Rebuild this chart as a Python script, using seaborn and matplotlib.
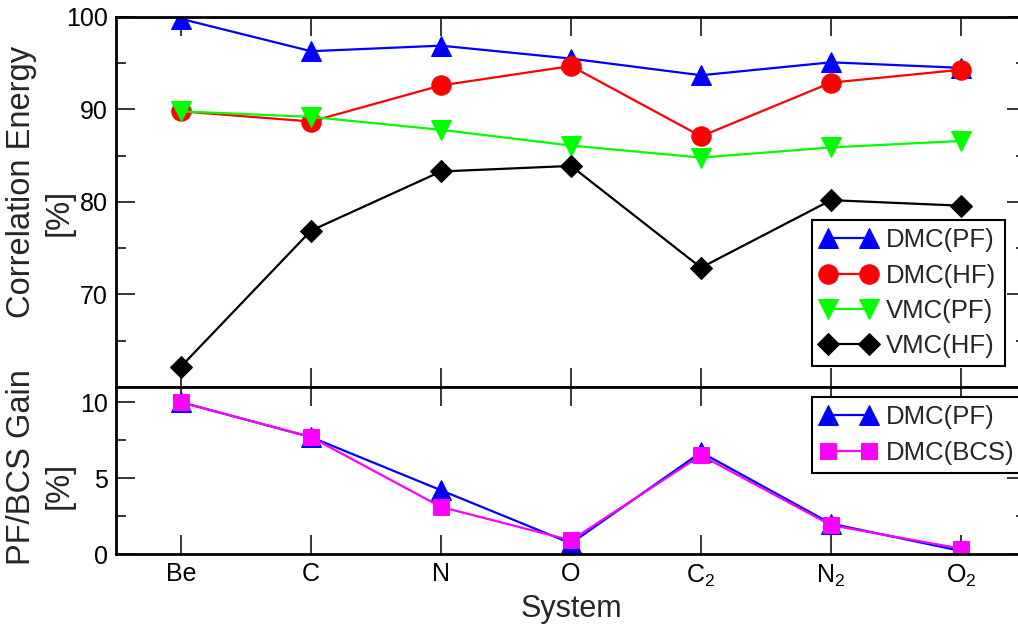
import matplotlib
matplotlib.use("Agg")
import matplotlib.pyplot as plt
import numpy as np
import seaborn as sns

systems = ["Be", "C", "N", "O", "C$_\\mathregular{2}$", "N$_\\mathregular{2}$", "O$_\\mathregular{2}$"]

# correlation energy recovered [%]
dmc_pf = [99.8, 96.3, 96.9, 95.5, 93.7, 95.1, 94.5]
dmc_hf = [89.8, 88.7, 92.6, 94.7, 87.1, 92.9, 94.3]
vmc_pf = [89.8, 89.2, 87.8, 86.1, 84.8, 85.9, 86.6]
vmc_hf = [62.2, 76.9, 83.3, 83.9, 72.9, 80.2, 79.6]

# gain over HF [%]
gain_pf = [10.0, 7.7, 4.2, 0.7, 6.7, 2.0, 0.2]
gain_bcs = [10.0, 7.7, 3.1, 0.9, 6.5, 1.9, 0.35]

sns.set_theme(style="ticks")
plt.rcParams["font.family"] = ["Liberation Sans", "DejaVu Sans"]
plt.rcParams["mathtext.default"] = "regular"

x = np.arange(1, len(systems) + 1)

fig = plt.figure(figsize=(10.18, 6.36), dpi=100)
ax1 = fig.add_axes([0.1139, 0.3915, 0.894, 0.5818])
ax2 = fig.add_axes([0.1139, 0.1289, 0.894, 0.2626])

top_series = [
    ("DMC(PF)", dmc_pf, "#0000ff", "^", 14),
    ("DMC(HF)", dmc_hf, "#ff0000", "o", 14),
    ("VMC(PF)", vmc_pf, "#00ff00", "v", 14),
    ("VMC(HF)", vmc_hf, "#000000", "D", 11),
]
bottom_series = [
    ("DMC(PF)", gain_pf, "#0000ff", "^", 14),
    ("DMC(BCS)", gain_bcs, "#ff00ff", "s", 11),
]

for ax, series in ((ax1, top_series), (ax2, bottom_series)):
    for name, vals, col, mk, ms in series:
        sns.lineplot(x=x, y=vals, ax=ax, color=col, marker=mk, markersize=ms,
                     markeredgecolor=col, linewidth=1.6, label=name, sort=False)

for ax in (ax1, ax2):
    ax.set_xlim(0.5, len(systems) + 0.5)
    ax.set_xticks(x)
    ax.tick_params(axis="both", which="both", direction="in", top=True, right=True,
                   width=1.1, labelsize=18, colors="black")
    ax.tick_params(axis="both", which="major", length=13.5, pad=6)
    ax.tick_params(axis="both", which="minor", length=7)
    for sp in ax.spines.values():
        sp.set_linewidth(2)
        sp.set_color("black")
    ax.grid(False)

ax1.set_ylim(60, 100)
ax1.set_yticks([70, 80, 90, 100])
ax1.set_yticks([65, 75, 85, 95], minor=True)
ax1.set_xticklabels([])
ax1.set_ylabel("Correlation Energy", fontsize=23.5)
ax1.yaxis.set_label_coords(-0.0868, 0.554)
ax1.text(-0.0626, 0.473, "[%]", rotation=90, ha="center", va="center",
         fontsize=23.5, transform=ax1.transAxes)

ax2.set_ylim(0, 11)
ax2.set_yticks([0, 5, 10])
ax2.set_yticks([2.5, 7.5], minor=True)
ax2.set_xticklabels(systems)
ax2.set_ylabel("PF/BCS Gain", fontsize=23.5)
ax2.yaxis.set_label_coords(-0.0868, 0.521)
ax2.text(-0.0626, 0.413, "[%]", rotation=90, ha="center", va="center",
         fontsize=23.5, transform=ax2.transAxes)
ax2.set_xlabel("System", fontsize=22, labelpad=4)

leg_kw = dict(numpoints=2, fontsize=18.5, handlelength=2.2, handletextpad=0.35,
              borderpad=0.33, labelspacing=0.43, fancybox=False, framealpha=1,
              edgecolor="black", borderaxespad=0)
leg1 = ax1.legend(loc="upper left", bbox_to_anchor=(812 / 1018, 1 - 220 / 636),
                  bbox_transform=fig.transFigure, **leg_kw)
leg2 = ax2.legend(loc="upper left", bbox_to_anchor=(812 / 1018, 1 - 397 / 636),
                  bbox_transform=fig.transFigure, **leg_kw)
for leg in (leg1, leg2):
    leg.get_frame().set_linewidth(1.5)

fig.savefig("out.png", dpi=100)
